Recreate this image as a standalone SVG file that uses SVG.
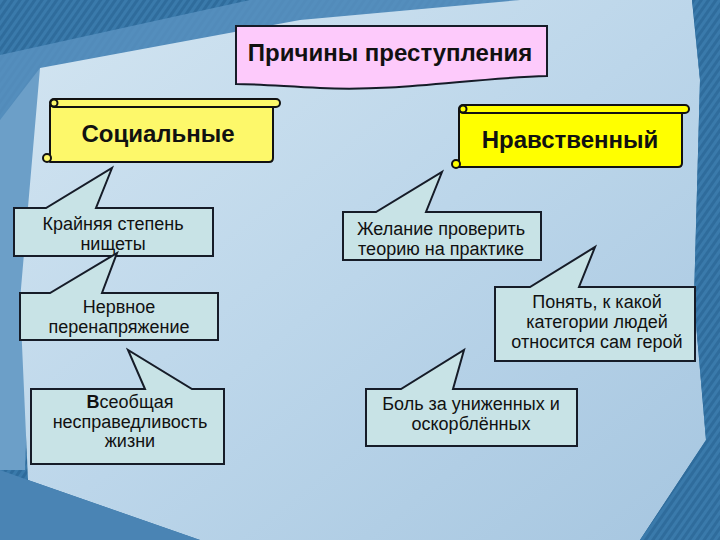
<svg xmlns="http://www.w3.org/2000/svg" width="720" height="540" viewBox="0 0 720 540">
  <defs>
    <linearGradient id="panel" x1="0" y1="0" x2="1" y2="1">
      <stop offset="0" stop-color="#d3e5f1"/>
      <stop offset="0.5" stop-color="#bcd6ea"/>
      <stop offset="1" stop-color="#a6c6e0"/>
    </linearGradient>
    <pattern id="stripes" width="6" height="6" patternUnits="userSpaceOnUse" patternTransform="rotate(35)">
      <rect width="6" height="6" fill="#2f6c9c"/>
      <rect width="3" height="6" fill="#3a7aab"/>
    </pattern>
  </defs>
  <style>
    .callout { fill: #c8e3e6; stroke: #161c28; stroke-width: 2; stroke-linejoin: miter; }
    .ct { font-family: "Liberation Sans", Arial, sans-serif; font-size: 18px; fill: #111; text-anchor: middle; }
    .scroll { stroke: #111; stroke-width: 2; stroke-linejoin: round; }
    .ht { font-family: "Liberation Sans", Arial, sans-serif; font-size: 24px; font-weight: bold; fill: #111; text-anchor: middle; }
  </style>

  <!-- background -->
  <rect x="0" y="0" width="720" height="540" fill="url(#stripes)"/>
  <polygon points="0,55 250,0 520,0 0,120" fill="#5b93c2" opacity="0.8"/>
  <polygon points="0,120 40,68 25,470 0,470" fill="#6c9fc8"/>
  <polygon points="40,68 300,20 520,0 692,0 700,80 694,300 706,440 640,540 200,540 28,480 20,300" fill="url(#panel)"/>
  <polygon points="0,470 28,480 200,540 0,540" fill="#4a84b4"/>
  <polygon points="692,0 720,0 720,540 640,540 706,440 694,300 700,80" fill="url(#stripes)"/>

  <!-- title -->
  <g id="title">
    <path d="M236,26 H547 V76 C470,78 400,92 320,88 C280,86 255,84 236,84 Z" fill="#fdcafb" stroke="#161c28" stroke-width="2"/>
    <text class="ht" x="390" y="61">Причины преступления</text>
  </g>

  <!-- scroll: Социальные -->
  <g id="social">
    <path class="scroll" d="M50,105 H273 V158 Q273,162 269,162 H50 Z" fill="#fdf86a"/>
    <rect class="scroll" x="50" y="99" width="230" height="8" rx="4" fill="#fdf86a"/>
    <circle class="scroll" cx="54" cy="103" r="3.5" fill="#fdf86a"/>
    <circle class="scroll" cx="47" cy="158" r="4" fill="#fdf86a"/>
    <text class="ht" x="158" y="142">Социальные</text>
  </g>

  <!-- scroll: Нравственный -->
  <g id="moral">
    <path class="scroll" d="M459,110 H682 V163 Q682,167 678,167 H459 Z" fill="#ffff00"/>
    <rect class="scroll" x="459" y="105" width="230" height="8" rx="4" fill="#ffff00"/>
    <circle class="scroll" cx="463" cy="109" r="3.5" fill="#ffff00"/>
    <circle class="scroll" cx="456" cy="164" r="4" fill="#ffff00"/>
    <text class="ht" x="570" y="148">Нравственный</text>
  </g>

  <!-- callouts left -->
  <g id="poverty">
    <path class="callout" d="M14,208 H46 L112,168 L96,208 H213 V256 H14 Z"/>
    <text class="ct" x="113" y="230">Крайняя степень</text>
    <text class="ct" x="113" y="250">нищеты</text>
  </g>
  <g id="stress">
    <path class="callout" d="M20,293 H50 L117,253 L102,293 H218 V340 H20 Z"/>
    <text class="ct" x="119" y="313">Нервное</text>
    <text class="ct" x="119" y="333">перенапряжение</text>
  </g>
  <g id="injustice">
    <path class="callout" d="M31,389 H145 L128,350 L192,389 H224 V464 H31 Z"/>
    <text class="ct" x="130" y="408"><tspan font-weight="bold">В</tspan>сеобщая</text>
    <text class="ct" x="130" y="428">несправедливость</text>
    <text class="ct" x="130" y="447">жизни</text>
  </g>

  <!-- callouts right -->
  <g id="theory">
    <path class="callout" d="M343,212 H376 L442,172 L426,212 H541 V260 H343 Z"/>
    <text class="ct" x="441" y="235">Желание проверить</text>
    <text class="ct" x="441" y="255">теорию на практике</text>
  </g>
  <g id="category">
    <path class="callout" d="M495,287 H530 L595,247 L579,287 H695 V361 H495 Z"/>
    <text class="ct" x="597" y="308">Понять, к какой</text>
    <text class="ct" x="597" y="328">категории людей</text>
    <text class="ct" x="597" y="348">относится сам герой</text>
  </g>
  <g id="pain">
    <path class="callout" d="M366,389 H401 L464,350 L453,389 H577 V446 H366 Z"/>
    <text class="ct" x="471" y="410">Боль за униженных и</text>
    <text class="ct" x="471" y="430">оскорблённых</text>
  </g>
</svg>
